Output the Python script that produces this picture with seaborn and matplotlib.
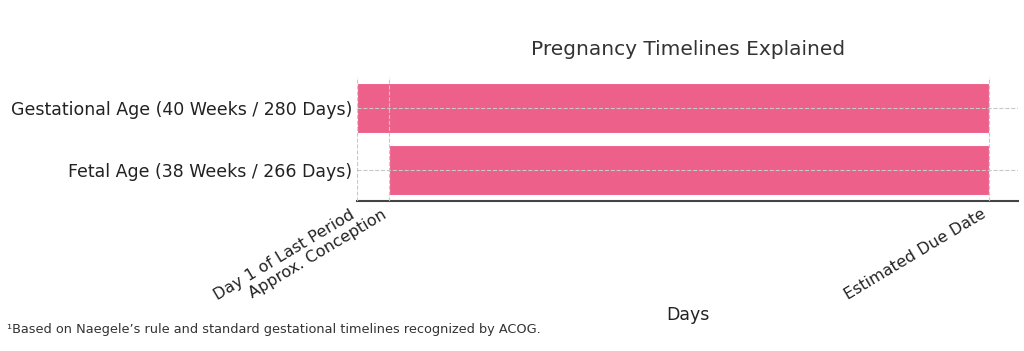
# pregnancy timelines: gestational vs fetal age as horizontal bars
import seaborn as sns
import matplotlib.pyplot as plt
import pandas as pd

labels = ['Gestational Age (40 Weeks / 280 Days)', 'Fetal Age (38 Weeks / 266 Days)']
starts = [0, 14]
ends = [280, 280]
tick_days = [0, 14, 280]
tick_labels = ['Day 1 of Last Period', 'Approx. Conception', 'Estimated Due Date']

df = pd.DataFrame({'label': labels, 'start': starts,
                   'length': [e - s for s, e in zip(starts, ends)]})

sns.set_style('white')
fig, ax = plt.subplots(figsize=(10.24, 3.51), dpi=100)

sns.barplot(data=df, x='length', y='label', left=df['start'], color='#EC608A',
            saturation=1, width=0.8, edgecolor='white', linewidth=0.8, ax=ax)

ax.set_xlim(0, 293)
ax.set_xticks(tick_days)
ax.set_xticklabels(tick_labels, rotation=31, ha='right', fontsize=11.5, color='#222222')
ax.tick_params(axis='y', labelsize=12.5, length=0, labelcolor='#222222')
ax.tick_params(axis='x', length=0, pad=4)
ax.set_ylabel('')
ax.set_xlabel('Days', fontsize=12.5, color='#222222', labelpad=2)
ax.set_title('Pregnancy Timelines Explained', fontsize=14.5, color='#333333', pad=16)

# dashed grid on top of the bars
ax.set_axisbelow(False)
ax.grid(True, linestyle='--', color='#c8c8c8', linewidth=0.8)

sns.despine(ax=ax, left=True)
ax.spines['bottom'].set_color('#444444')
ax.spines['bottom'].set_linewidth(1.5)

fig.subplots_adjust(left=0.349, right=0.994, top=0.78, bottom=0.427)
fig.text(0.007, 0.05, '\u00b9Based on Naegele\u2019s rule and standard gestational timelines recognized by ACOG.',
         fontsize=9.3, color='#333333')

fig.savefig('out.png', dpi=100)
